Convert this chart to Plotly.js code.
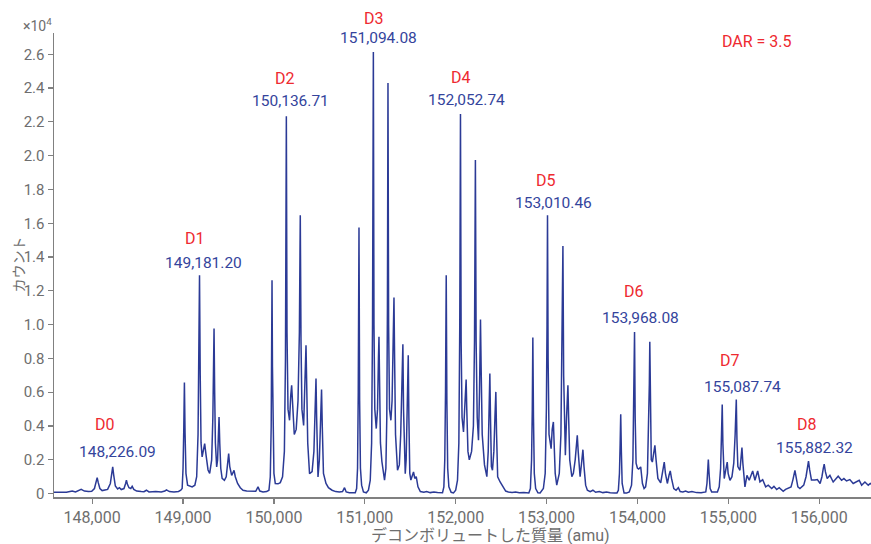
<!DOCTYPE html>
<html>
<head>
<meta charset="utf-8">
<script src="https://cdn.plot.ly/plotly-3.0.1.min.js"></script>
<style>
  html, body { margin: 0; padding: 0; background: #ffffff; }
  #chart { width: 871px; height: 544px; }
</style>
</head>
<body>
<div id="chart"></div>
<script>
// Deconvoluted mass spectrum of an ADC, counts in units of 1e4.
// Each cluster lists [mass (amu), counts x1e4] points along the trace.

const leadIn = [
  [147580, 0.008], [147651, 0.010], [147717, 0.008], [147780, 0.016], [147817, 0.010],
  [147879, 0.025], [147915, 0.015], [147960, 0.012]
];

const clusterD0 = [
  [147995, 0.014], [148025, 0.030], [148043, 0.065], [148055, 0.095], [148067, 0.065],
  [148085, 0.030], [148110, 0.018], [148140, 0.022], [148170, 0.025], [148200, 0.060],
  [148215, 0.120], [148226.09, 0.158], [148237, 0.110], [148255, 0.045], [148280, 0.028],
  [148300, 0.035], [148320, 0.024], [148350, 0.030], [148368, 0.060], [148377, 0.079],
  [148388, 0.055], [148405, 0.035], [148425, 0.030], [148440, 0.043], [148458, 0.025],
  [148490, 0.015], [148540, 0.012], [148570, 0.011], [148597, 0.020], [148625, 0.010],
  [148700, 0.012], [148760, 0.010], [148800, 0.015], [148817, 0.022], [148850, 0.012],
  [148900, 0.010], [148950, 0.013], [148975, 0.020]
];

const clusterD1 = [
  [148990, 0.030], [149000, 0.150], [149008, 0.380], [149015, 0.657], [149022, 0.360],
  [149032, 0.120], [149050, 0.050], [149080, 0.045], [149100, 0.040], [149130, 0.050],
  [149150, 0.100], [149165, 0.350], [149173, 0.750], [149181.20, 1.293], [149189, 0.700],
  [149198, 0.300], [149210, 0.217], [149225, 0.260], [149238, 0.296], [149255, 0.220],
  [149275, 0.140], [149293, 0.120], [149315, 0.200], [149328, 0.450], [149335, 0.700],
  [149341, 0.977], [149348, 0.600], [149356, 0.300], [149370, 0.158], [149380, 0.200],
  [149388, 0.330], [149396, 0.454], [149404, 0.300], [149415, 0.150], [149430, 0.090],
  [149455, 0.079], [149475, 0.100], [149490, 0.170], [149502, 0.237], [149514, 0.160],
  [149535, 0.108], [149550, 0.125], [149561, 0.138], [149575, 0.100], [149600, 0.060],
  [149630, 0.035], [149660, 0.020], [149700, 0.015], [149760, 0.012], [149800, 0.014],
  [149825, 0.040], [149845, 0.015], [149880, 0.010], [149920, 0.012]
];

const clusterD2 = [
  [149945, 0.020], [149960, 0.100], [149970, 0.400], [149975, 0.800], [149979, 1.263],
  [149984, 0.750], [149990, 0.350], [150000, 0.120], [150015, 0.060], [150045, 0.058],
  [150070, 0.065], [150095, 0.100], [150115, 0.250], [150127, 0.800], [150136.71, 2.234],
  [150144, 0.950], [150155, 0.500], [150172, 0.434], [150185, 0.580], [150195, 0.641],
  [150203, 0.560], [150213, 0.400], [150224, 0.350], [150245, 0.380], [150265, 0.550],
  [150280, 0.950], [150290, 1.648], [150298, 0.900], [150308, 0.500], [150327, 0.404],
  [150338, 0.550], [150346, 0.750], [150353, 0.878], [150360, 0.650], [150372, 0.300],
  [150392, 0.118], [150420, 0.130], [150440, 0.250], [150452, 0.500], [150463, 0.681],
  [150470, 0.450], [150485, 0.098], [150500, 0.200], [150512, 0.420], [150524, 0.616],
  [150532, 0.400], [150545, 0.120], [150573, 0.060], [150600, 0.035], [150640, 0.020],
  [150680, 0.012], [150720, 0.010], [150755, 0.012], [150777, 0.035], [150795, 0.010],
  [150830, 0.005], [150870, 0.004]
];

const clusterD3 = [
  [150895, 0.005], [150910, 0.030], [150920, 0.150], [150928, 0.600], [150936, 1.575],
  [150943, 0.550], [150952, 0.150], [150965, 0.050], [150985, 0.010], [151016, 0.005],
  [151040, 0.020], [151060, 0.080], [151075, 0.300], [151085, 1.000], [151094.08, 2.614],
  [151101, 1.000], [151110, 0.500], [151126, 0.385], [151140, 0.500], [151150, 0.800],
  [151156, 0.928], [151163, 0.650], [151172, 0.300], [151188, 0.190], [151205, 0.120],
  [151217, 0.080], [151232, 0.150], [151242, 0.450], [151249, 1.100], [151255, 2.430],
  [151262, 1.000], [151272, 0.500], [151287, 0.434], [151300, 0.550], [151312, 0.900],
  [151321, 1.161], [151328, 0.800], [151338, 0.350], [151360, 0.138], [151380, 0.170],
  [151395, 0.350], [151408, 0.650], [151419, 0.884], [151426, 0.500], [151436, 0.150],
  [151445, 0.118], [151455, 0.200], [151466, 0.500], [151478, 0.819], [151485, 0.450],
  [151495, 0.120], [151507, 0.080], [151522, 0.100], [151536, 0.128], [151550, 0.090],
  [151566, 0.100], [151585, 0.040], [151611, 0.012], [151650, 0.008], [151680, 0.012],
  [151720, 0.006], [151760, 0.010], [151800, 0.006], [151830, 0.004]
];

const clusterD4 = [
  [151855, 0.005], [151870, 0.040], [151880, 0.200], [151888, 0.600], [151896, 1.293],
  [151903, 0.550], [151912, 0.150], [151925, 0.040], [151950, 0.008], [151976, 0.004],
  [152000, 0.020], [152020, 0.080], [152035, 0.300], [152045, 1.000], [152052.74, 2.246],
  [152060, 0.900], [152070, 0.450], [152086, 0.365], [152100, 0.550], [152110, 0.660],
  [152115, 0.675], [152122, 0.500], [152135, 0.250], [152150, 0.200], [152175, 0.250],
  [152195, 0.400], [152207, 0.900], [152217, 1.974], [152225, 0.900], [152237, 0.450],
  [152251, 0.316], [152262, 0.600], [152268, 0.900], [152273, 1.030], [152280, 0.750],
  [152292, 0.350], [152317, 0.170], [152343, 0.100], [152358, 0.250], [152368, 0.500],
  [152376, 0.711], [152383, 0.450], [152393, 0.160], [152405, 0.138], [152420, 0.250],
  [152432, 0.450], [152442, 0.602], [152450, 0.350], [152462, 0.100], [152489, 0.069],
  [152520, 0.040], [152550, 0.015], [152580, 0.010], [152620, 0.006], [152660, 0.010],
  [152700, 0.005], [152750, 0.006], [152790, 0.004]
];

const clusterD5 = [
  [152805, 0.004], [152822, 0.030], [152835, 0.200], [152843, 0.500], [152849, 0.924],
  [152856, 0.450], [152865, 0.120], [152880, 0.030], [152905, 0.005], [152929, 0.004],
  [152965, 0.030], [152985, 0.120], [152998, 0.500], [153005, 1.000], [153010.46, 1.648],
  [153017, 0.800], [153027, 0.350], [153050, 0.266], [153062, 0.380], [153075, 0.424],
  [153083, 0.300], [153095, 0.120], [153112, 0.050], [153140, 0.120], [153158, 0.350],
  [153170, 0.800], [153180, 1.465], [153188, 0.700], [153198, 0.300], [153207, 0.227],
  [153220, 0.450], [153230, 0.600], [153235, 0.641], [153243, 0.450], [153255, 0.200],
  [153278, 0.100], [153295, 0.120], [153315, 0.200], [153328, 0.300], [153338, 0.345],
  [153348, 0.250], [153360, 0.120], [153369, 0.100], [153385, 0.180], [153400, 0.260],
  [153412, 0.160], [153430, 0.050], [153449, 0.020], [153480, 0.012], [153510, 0.020],
  [153540, 0.008], [153580, 0.012], [153620, 0.006], [153660, 0.010], [153700, 0.005],
  [153750, 0.004]
];

const clusterD6 = [
  [153775, 0.004], [153790, 0.020], [153802, 0.120], [153810, 0.300], [153816, 0.470],
  [153823, 0.250], [153832, 0.060], [153853, 0.003], [153880, 0.003], [153910, 0.010],
  [153935, 0.050], [153950, 0.200], [153960, 0.500], [153968.08, 0.957], [153975, 0.450],
  [153985, 0.180], [154000, 0.150], [154014, 0.145], [154036, 0.158], [154055, 0.060],
  [154073, 0.030], [154090, 0.040], [154110, 0.120], [154125, 0.400], [154131, 0.650],
  [154136, 0.898], [154143, 0.500], [154152, 0.200], [154164, 0.187], [154180, 0.260],
  [154192, 0.286], [154205, 0.200], [154225, 0.090], [154256, 0.063], [154270, 0.100],
  [154285, 0.160], [154295, 0.187], [154308, 0.120], [154329, 0.060], [154348, 0.110],
  [154361, 0.134], [154375, 0.090], [154400, 0.030], [154425, 0.020], [154450, 0.035],
  [154470, 0.012], [154500, 0.010], [154530, 0.015], [154560, 0.008], [154600, 0.012],
  [154650, 0.006], [154700, 0.005], [154740, 0.006]
];

const clusterD7 = [
  [154752, 0.010], [154765, 0.060], [154773, 0.140], [154780, 0.201], [154788, 0.120],
  [154800, 0.030], [154817, 0.010], [154880, 0.010], [154900, 0.040], [154915, 0.150],
  [154925, 0.350], [154933, 0.527], [154940, 0.300], [154948, 0.120], [154955, 0.089],
  [154975, 0.150], [154988, 0.187], [154998, 0.120], [155018, 0.079], [155040, 0.100],
  [155060, 0.180], [155075, 0.350], [155087.74, 0.557], [155095, 0.320], [155105, 0.160],
  [155128, 0.138], [155140, 0.220], [155150, 0.272], [155160, 0.180], [155175, 0.060],
  [155183, 0.040], [155205, 0.108], [155230, 0.079], [155268, 0.134], [155293, 0.079],
  [155323, 0.134], [155348, 0.070], [155378, 0.083], [155411, 0.040], [155439, 0.050],
  [155477, 0.030], [155502, 0.043], [155532, 0.024], [155560, 0.035], [155604, 0.014],
  [155630, 0.025], [155659, 0.030]
];

const clusterD8 = [
  [155690, 0.040], [155710, 0.080], [155722, 0.120], [155733, 0.138], [155745, 0.100],
  [155765, 0.040], [155788, 0.030], [155830, 0.050], [155855, 0.100], [155870, 0.160],
  [155882.32, 0.192], [155895, 0.140], [155915, 0.080], [155953, 0.080], [155980, 0.083],
  [156010, 0.060], [156030, 0.100], [156045, 0.150], [156055, 0.174], [156068, 0.130],
  [156088, 0.089], [156118, 0.108], [156154, 0.069], [156209, 0.103], [156246, 0.079],
  [156272, 0.089], [156301, 0.075], [156337, 0.083], [156374, 0.060], [156440, 0.079],
  [156467, 0.050], [156503, 0.069], [156540, 0.050], [156562, 0.060], [156575, 0.055]
];

// Drug-load species labels and their measured masses
const speciesNames = ['D0', 'D1', 'D2', 'D3', 'D4', 'D5', 'D6', 'D7', 'D8'];
const speciesMasses = [148226.09, 149181.20, 150136.71, 151094.08, 152052.74,
                       153010.46, 153968.08, 155087.74, 155882.32];
const darText = 'DAR = 3.5';

// Axis ticks
const xTickVals = [148000, 149000, 150000, 151000, 152000, 153000, 154000, 155000, 156000];
const xTickText = ['148,000', '149,000', '150,000', '151,000', '152,000',
                   '153,000', '154,000', '155,000', '156,000'];
const yTickVals = [0, 0.2, 0.4, 0.6, 0.8, 1.0, 1.2, 1.4, 1.6, 1.8, 2.0, 2.2, 2.4, 2.6];
const yTickText = ['0', '0.2', '0.4', '0.6', '0.8', '1.0', '1.2', '1.4', '1.6',
                   '1.8', '2.0', '2.2', '2.4', '2.6'];

const xTitle = 'デコンボリュートした質量 (amu)';
const yTitle = 'カウント';

// Assemble the trace
const spectrum = [].concat(leadIn, clusterD0, clusterD1, clusterD2, clusterD3,
                           clusterD4, clusterD5, clusterD6, clusterD7, clusterD8);
const massX = spectrum.map(p => p[0]);
const countY = spectrum.map(p => p[1]);

const LINE_BLUE = '#2b3a96';
const LABEL_BLUE = '#34449c';
const LABEL_RED = '#ee2a30';
const GREY = '#6e6e6e';
const AXIS_GREY = '#808080';
const FONT = 'Roboto, "Noto Sans CJK JP", sans-serif';

const trace = {
  type: 'scatter',
  mode: 'lines',
  x: massX,
  y: countY,
  line: { color: LINE_BLUE, width: 1.5 },
  hoverinfo: 'x+y'
};

// Label placement: x in mass units, y as a fraction of the plot height
const nameSpots = [
  [148139, 0.1561], [149136, 0.5573], [150125, 0.9023], [151096, 1.0320], [152061, 0.9051],
  [152992, 0.6830], [153966, 0.4421], [155018, 0.2948], [155868, 0.1561]
];
const massSpots = [
  [148275, 0.0970], [149227, 0.5033], [150180, 0.8540], [151151, 0.9885], [152121, 0.8555],
  [153075, 0.6340], [154029, 0.3847], [155156, 0.2372], [155945, 0.1057]
];

const annotations = [];
speciesNames.forEach((name, i) => {
  annotations.push({
    x: nameSpots[i][0], y: nameSpots[i][1], xref: 'x', yref: 'paper',
    text: name, showarrow: false, xanchor: 'center', yanchor: 'middle',
    font: { family: FONT, size: 16, color: LABEL_RED }
  });
  annotations.push({
    x: massSpots[i][0], y: massSpots[i][1], xref: 'x', yref: 'paper',
    text: speciesMasses[i].toLocaleString('en-US', { minimumFractionDigits: 2, maximumFractionDigits: 2 }),
    showarrow: false, xanchor: 'center', yanchor: 'middle',
    font: { family: FONT, size: 15.5, color: LABEL_BLUE }
  });
});

annotations.push({
  x: 0.861, y: 0.982, xref: 'paper', yref: 'paper',
  text: darText, showarrow: false, xanchor: 'center', yanchor: 'middle',
  font: { family: FONT, size: 16, color: LABEL_RED }
});
annotations.push({
  x: -0.0196, y: 1.017, xref: 'paper', yref: 'paper',
  text: '×10<sup>4</sup>', showarrow: false, xanchor: 'center', yanchor: 'middle',
  font: { family: FONT, size: 14, color: GREY }
});
annotations.push({
  x: 0.534, y: -0.0826, xref: 'paper', yref: 'paper',
  text: xTitle, showarrow: false, xanchor: 'center', yanchor: 'middle',
  font: { family: FONT, size: 16, color: GREY }
});
annotations.push({
  x: -0.0434, y: 0.5, xref: 'paper', yref: 'paper',
  text: yTitle, showarrow: false, textangle: -90, xanchor: 'center', yanchor: 'middle',
  font: { family: FONT, size: 14, color: GREY }
});

const layout = {
  width: 871,
  height: 544,
  margin: { l: 53.5, r: 0, t: 33, b: 47.3, pad: 0 },
  paper_bgcolor: '#ffffff',
  plot_bgcolor: '#ffffff',
  showlegend: false,
  font: { family: FONT, color: GREY },
  xaxis: {
    range: [147580, 156570],
    tickvals: xTickVals,
    ticktext: xTickText,
    ticks: 'outside', ticklen: 5, tickwidth: 1.2, tickcolor: AXIS_GREY,
    showline: true, linecolor: AXIS_GREY, linewidth: 1.5,
    showgrid: false, zeroline: false,
    tickfont: { family: FONT, size: 16, color: GREY }
  },
  yaxis: {
    range: [-0.02, 2.726],
    tickvals: yTickVals,
    ticktext: yTickText,
    ticks: 'outside', ticklen: 5, tickwidth: 1.2, tickcolor: AXIS_GREY,
    showline: true, linecolor: AXIS_GREY, linewidth: 1.5,
    showgrid: false, zeroline: false,
    tickfont: { family: FONT, size: 15, color: GREY }
  },
  annotations: annotations
};

Plotly.newPlot('chart', [trace], layout, { displayModeBar: false, staticPlot: true });
</script>
</body>
</html>
